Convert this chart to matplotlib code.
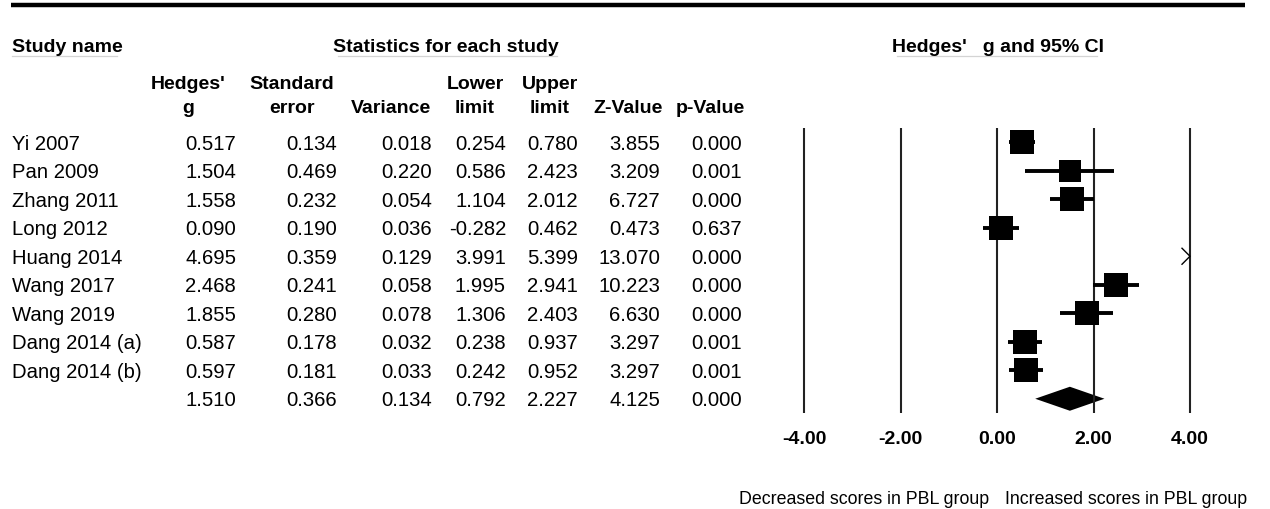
import numpy as np
import matplotlib
matplotlib.use('agg')
import matplotlib.pyplot as plt
from matplotlib.transforms import blended_transform_factory
from matplotlib.patches import Polygon

plt.rcParams['font.family'] = ['Liberation Sans', 'DejaVu Sans']

# study data
studies = ['Yi 2007', 'Pan 2009', 'Zhang 2011', 'Long 2012', 'Huang 2014',
           'Wang 2017', 'Wang 2019', 'Dang 2014 (a)', 'Dang 2014 (b)']
hedges_g = [0.517, 1.504, 1.558, 0.090, 4.695, 2.468, 1.855, 0.587, 0.597]
std_err = [0.134, 0.469, 0.232, 0.190, 0.359, 0.241, 0.280, 0.178, 0.181]
variance = [0.018, 0.220, 0.054, 0.036, 0.129, 0.058, 0.078, 0.032, 0.033]
lower = [0.254, 0.586, 1.104, -0.282, 3.991, 1.995, 1.306, 0.238, 0.242]
upper = [0.780, 2.423, 2.012, 0.462, 5.399, 2.941, 2.403, 0.937, 0.952]
z_value = [3.855, 3.209, 6.727, 0.473, 13.070, 10.223, 6.630, 3.297, 3.297]
p_value = [0.000, 0.001, 0.000, 0.637, 0.000, 0.000, 0.000, 0.001, 0.001]

# pooled (random effects) row
pooled = dict(g=1.510, se=0.366, var=0.134, lo=0.792, hi=2.227, z=4.125, p=0.000)

col_headers = [("Hedges'", 'g'), ('Standard', 'error'), ('', 'Variance'),
               ('Lower', 'limit'), ('Upper', 'limit'), ('', 'Z-Value'), ('', 'p-Value')]
x_ticks = [-4, -2, 0, 2, 4]

# ---- layout (pixels) ----
W, H = 1270, 509
col_right = [236, 337, 432, 506, 578, 660, 742]
col_center = [188, 292, 391, 475, 550, 628, 710]
ppu = (1190 - 804) / 8.0   # pixels per unit on forest axis
zero_px = 997
row_top, row_bot = 128, 413
n_rows = len(studies) + 1

fig = plt.figure(figsize=(W / 100, H / 100), dpi=100)
bg = fig.add_axes([0, 0, 1, 1])
bg.set_xlim(0, W)
bg.set_ylim(H, 0)
bg.axis('off')

left_px = zero_px - 5 * ppu
fa = fig.add_axes([left_px / W, 1 - row_bot / H, 10 * ppu / W, (row_bot - row_top) / H])
fa.set_xlim(-5, 5)
fa.set_ylim(n_rows - 0.5, -0.5)
fa.axis('off')

FS = 14          # bold headers / ticks
FS_BODY = 14.6   # table body
trans = blended_transform_factory(bg.transData, fa.transData)

# top rule and headers
bg.plot([11, 1245], [5, 5], color='black', lw=3.2, solid_capstyle='butt')
bg.text(12, 45, 'Study name', fontsize=FS, fontweight='bold', va='center_baseline')
bg.plot([12, 117], [56, 56], color='#d4d4d4', lw=0.9)
bg.text(446, 45, 'Statistics for each study', fontsize=FS, fontweight='bold',
        ha='center', va='center_baseline')
bg.plot([338, 557], [56, 56], color='#d4d4d4', lw=0.9)
bg.text(998, 45, "Hedges'   g and 95% CI", fontsize=FS, fontweight='bold',
        ha='center', va='center_baseline')
bg.plot([897, 1097], [56, 56], color='#d4d4d4', lw=0.9)

for (l1, l2), cx in zip(col_headers, col_center):
    if l1:
        bg.text(cx, 82, l1, fontsize=FS, fontweight='bold', ha='center', va='center_baseline')
    bg.text(cx, 106, l2, fontsize=FS, fontweight='bold', ha='center', va='center_baseline')

# table body
for i, name in enumerate(studies):
    bg.text(12, i, name, fontsize=FS_BODY, va='center_baseline', transform=trans)
    vals = [hedges_g[i], std_err[i], variance[i], lower[i], upper[i], z_value[i], p_value[i]]
    for v, xr in zip(vals, col_right):
        bg.text(xr, i, f'{v:.3f}', fontsize=FS_BODY, ha='right', va='center_baseline',
                transform=trans)
pvals = [pooled['g'], pooled['se'], pooled['var'], pooled['lo'], pooled['hi'], pooled['z'], pooled['p']]
for v, xr in zip(pvals, col_right):
    bg.text(xr, n_rows - 1, f'{v:.3f}', fontsize=FS_BODY, ha='right', va='center_baseline',
            transform=trans)

# forest plot
for t in x_ticks:
    fa.axvline(t, color='#222222', lw=1.5)
    bg.text(zero_px + t * ppu, 437, f'{t:.2f}', fontsize=FS, fontweight='bold',
            ha='center', va='center_baseline')

# random-effects weights (DerSimonian-Laird) for the box sizes
v = np.array(variance)
g = np.array(hedges_g)
w = 1 / v
q = np.sum(w * (g - np.sum(w * g) / np.sum(w)) ** 2)
tau2 = max(0.0, (q - (len(g) - 1)) / (np.sum(w) - np.sum(w ** 2) / np.sum(w)))
w_re = 1 / (v + tau2)
box_px = 24 * np.sqrt(w_re / w_re.max())

xmax = x_ticks[-1]
for i in range(len(studies)):
    lo, hi = lower[i], upper[i]
    if hi > xmax:
        fa.plot([lo, xmax], [i, i], color='black', lw=2.8, solid_capstyle='butt')
        dx, dy = 8 / ppu, 8 / 28.5
        fa.plot([xmax - dx, xmax, xmax - dx], [i - dy, i, i + dy], color='black', lw=1.0)
    else:
        fa.plot([lo, hi], [i, i], color='black', lw=2.8, solid_capstyle='butt')
    if hedges_g[i] <= xmax:
        fa.plot(hedges_g[i], i, marker='s', color='black', markeredgewidth=0,
                markersize=box_px[i] * 0.72)

yd = n_rows - 1
hh = 12 / 28.5
fa.add_patch(Polygon([(pooled['lo'], yd), (pooled['g'], yd - hh), (pooled['hi'], yd),
                      (pooled['g'], yd + hh)], closed=True, color='black', lw=0))

bg.text(989, 498, 'Decreased scores in PBL group', fontsize=12.8, ha='right', va='center_baseline')
bg.text(1005, 498, 'Increased scores in PBL group', fontsize=12.8, ha='left', va='center_baseline')

fig.savefig('out.png', dpi=100)
